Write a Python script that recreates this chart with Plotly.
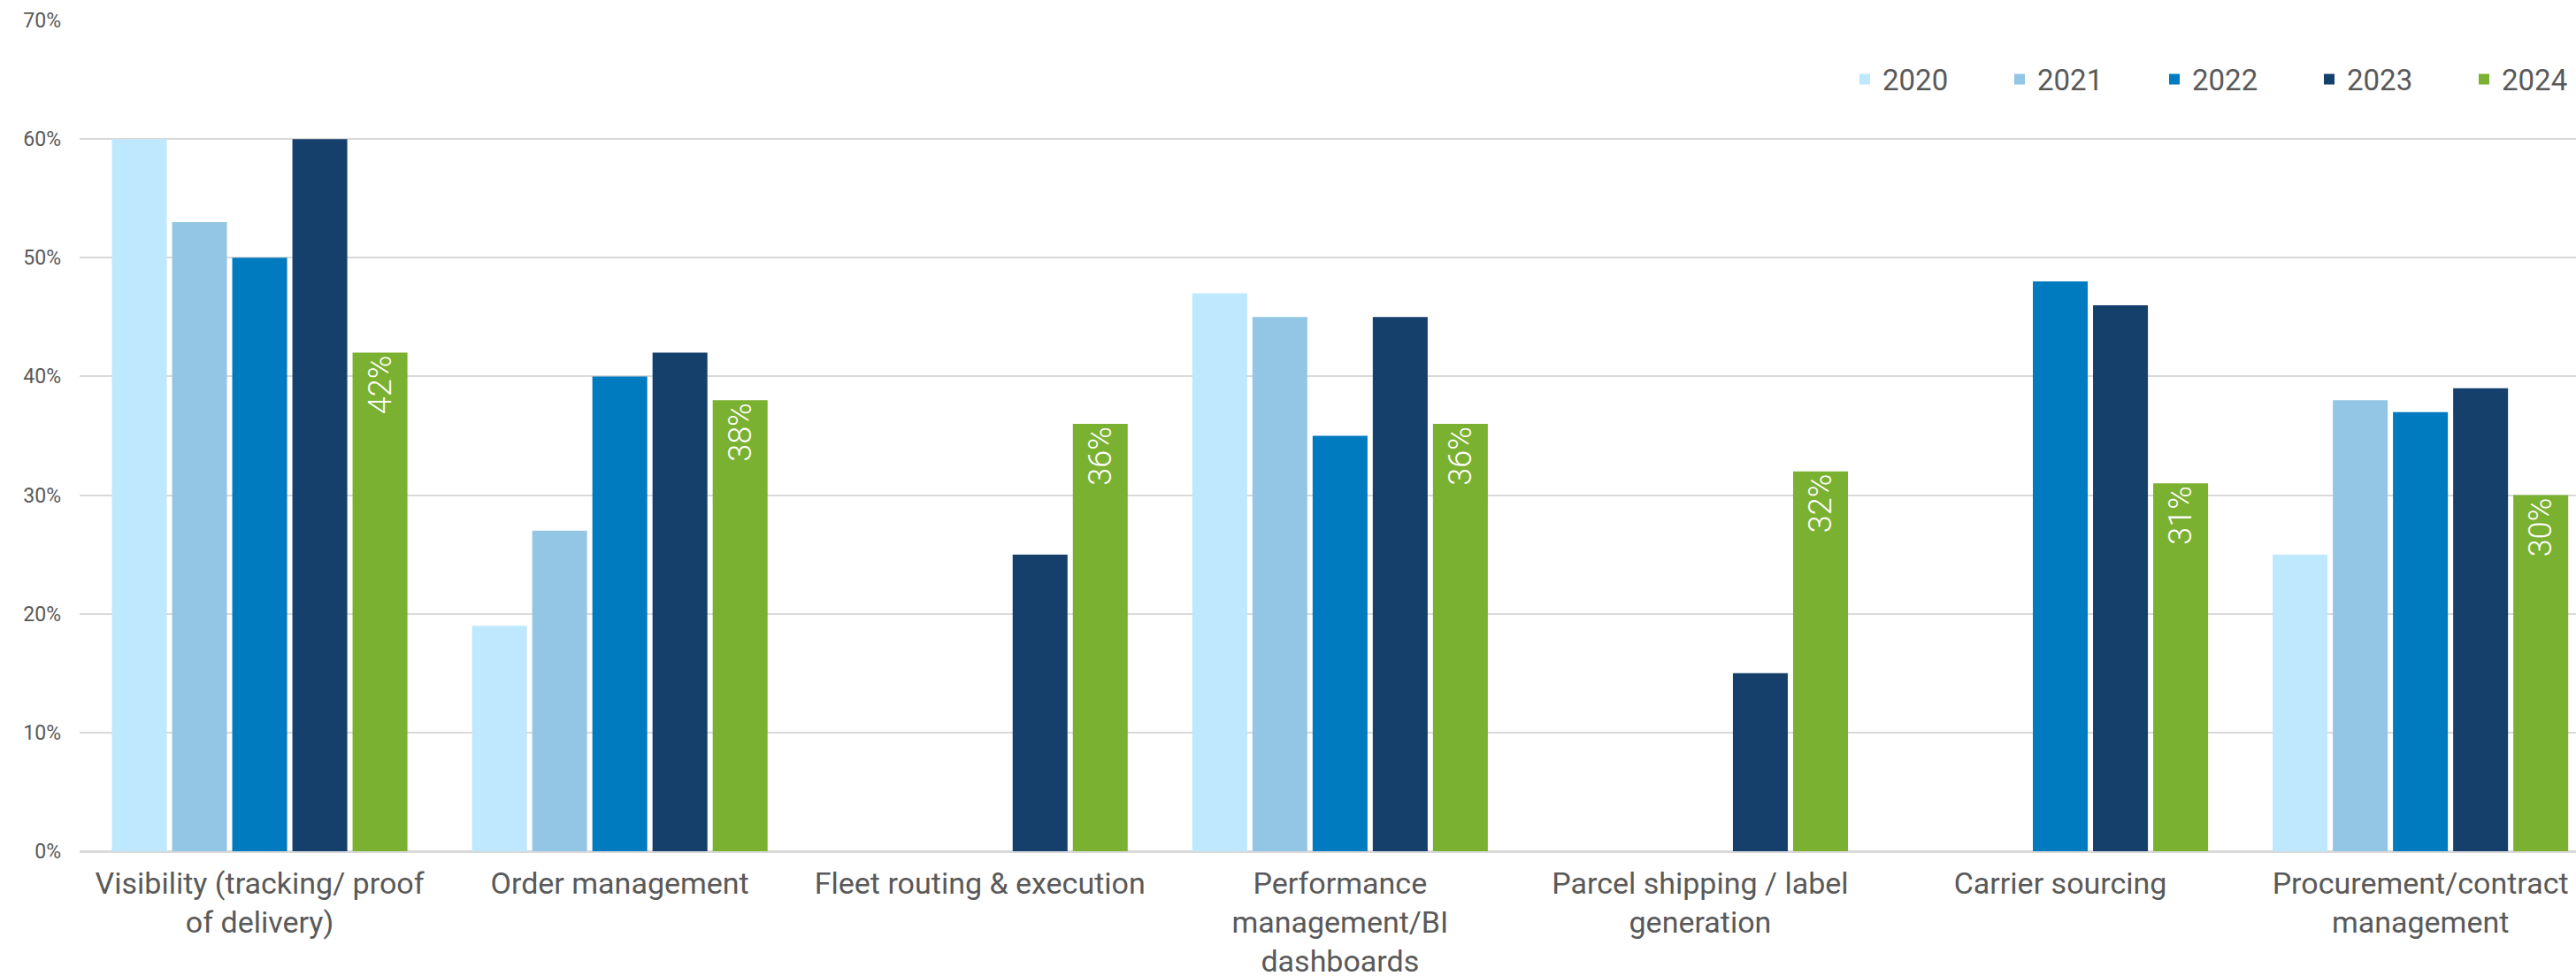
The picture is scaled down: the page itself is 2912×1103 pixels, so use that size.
import plotly.graph_objects as go

categories = [
    "Visibility (tracking/ proof<br>of delivery)",
    "Order management",
    "Fleet routing & execution",
    "Performance<br>management/BI<br>dashboards",
    "Parcel shipping / label<br>generation",
    "Carrier sourcing",
    "Procurement/contract<br>management",
]
years = ["2020", "2021", "2022", "2023", "2024"]
v2020 = [60, 19, None, 47, None, None, 25]
v2021 = [53, 27, None, 45, None, None, 38]
v2022 = [50, 40, None, 35, None, 48, 37]
v2023 = [60, 42, 25, 45, 15, 46, 39]
v2024 = [42, 38, 36, 36, 32, 31, 30]
series = [v2020, v2021, v2022, v2023, v2024]
colors = ["#BDE8FD", "#93C6E5", "#007BC0", "#15406B", "#7BB131"]

fig = go.Figure()
for name, vals, col in zip(years, series, colors):
    show_text = name == "2024"
    fig.add_trace(go.Bar(
        name=name,
        x=categories,
        y=vals,
        marker=dict(color=col, line=dict(width=0)),
        text=[f"{v}%" if v is not None else "" for v in vals] if show_text else None,
        textposition="inside" if show_text else "none",
        insidetextanchor="end",
        textangle=-90,
        textfont=dict(family="Roboto", size=36, color="white", weight=300),
        hoverinfo="skip",
    ))

fig.update_layout(
    width=2912,
    height=1103,
    margin=dict(l=90, r=0, t=23, b=141, autoexpand=False),
    paper_bgcolor="white",
    plot_bgcolor="white",
    barmode="group",
    bargap=0.1646,
    bargroupgap=0.088,
    font=dict(family="Roboto", color="#595959"),
    legend=dict(
        orientation="h",
        xref="container", yref="container",
        x=2088 / 2912, xanchor="left",
        y=1 - 89.5 / 1103, yanchor="middle",
        font=dict(size=33, color="#595959"),
        entrywidth=130,
        bgcolor="rgba(0,0,0,0)",
    ),
    xaxis=dict(
        range=[-0.5, 6.432],
        automargin=False,
        showgrid=False,
        showline=False,
        ticks="",
        tickfont=dict(size=34, color="#595959"),
        ticklabelstandoff=13,
    ),
    yaxis=dict(
        range=[0, 70],
        automargin=False,
        dtick=10,
        ticksuffix="%",
        showgrid=True,
        gridcolor="#d9d9d9",
        gridwidth=2,
        zeroline=True,
        zerolinecolor="#d9d9d9",
        zerolinewidth=3,
        showline=False,
        ticks="",
        tickfont=dict(size=23, color="#595959"),
        ticklabelstandoff=20,
    ),
)

fig.write_html("out.html")
